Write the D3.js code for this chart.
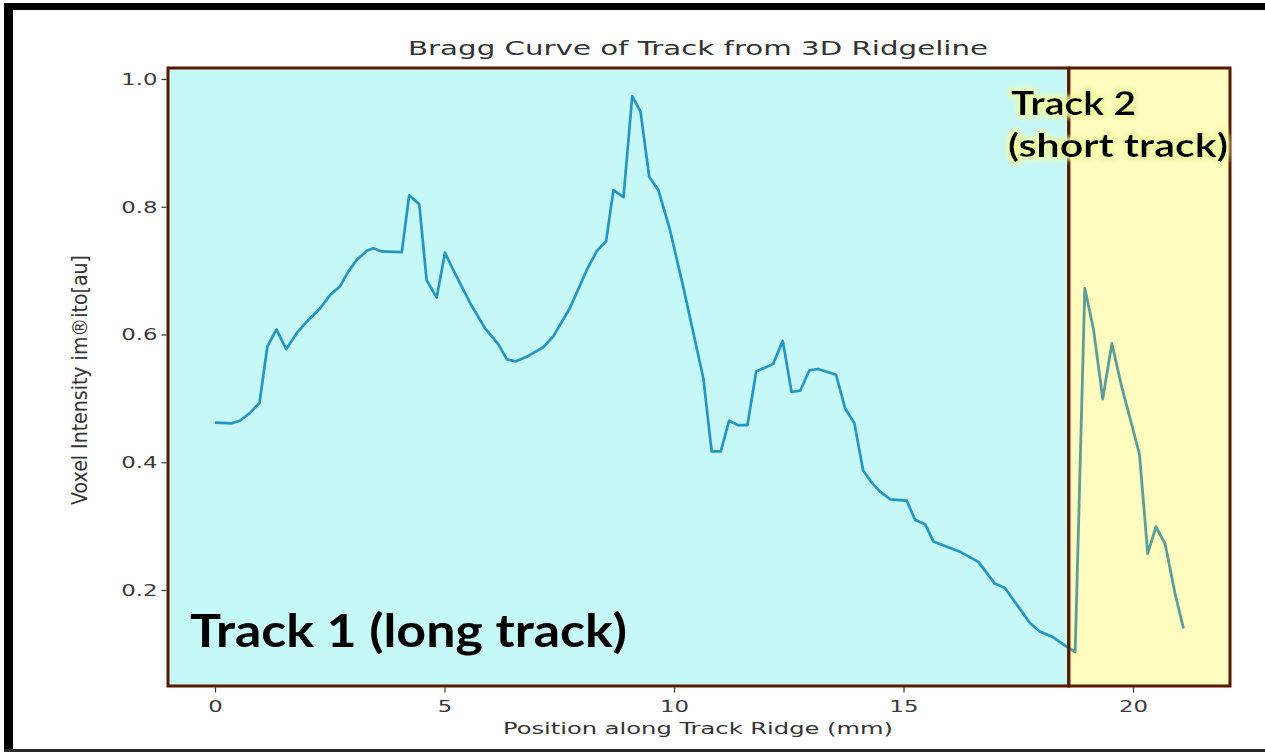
<!DOCTYPE html>
<html>
<head>
<meta charset="utf-8">
<script src="https://cdn.jsdelivr.net/npm/d3@7"></script>
<style>
  html, body { margin: 0; padding: 0; background: #ffffff; }
  svg { display: block; }
</style>
</head>
<body>
<svg id="chart" width="1265" height="753"></svg>
<script>
// Position along the ridge (mm) and normalised voxel intensity
const positions = [
  0.00, 0.36, 0.54, 0.76, 0.97, 1.14, 1.34, 1.55, 1.78, 2.00,
  2.29, 2.51, 2.72, 2.90, 3.09, 3.31, 3.45, 3.63, 4.07, 4.23,
  4.45, 4.61, 4.83, 5.01, 5.19, 5.56, 5.88, 6.17, 6.36, 6.56,
  6.79, 7.15, 7.37, 7.73, 8.10, 8.32, 8.52, 8.68, 8.90, 9.09,
  9.27, 9.46, 9.66, 9.91, 10.20, 10.64, 10.82, 11.02, 11.20, 11.40,
  11.60, 11.79, 12.16, 12.37, 12.56, 12.75, 12.95, 13.14, 13.53, 13.73,
  13.93, 14.12, 14.31, 14.49, 14.71, 15.07, 15.25, 15.47, 15.65, 16.23,
  16.63, 16.99, 17.21, 17.50, 17.76, 17.97, 18.26, 18.56, 18.74,
  18.95, 19.14, 19.34, 19.54, 19.75, 20.14, 20.32, 20.50, 20.70, 20.92, 21.10
];
const intensity = [
  0.462, 0.461, 0.465, 0.477, 0.493, 0.581, 0.608, 0.577, 0.602, 0.620,
  0.641, 0.662, 0.675, 0.698, 0.717, 0.731, 0.735, 0.730, 0.729, 0.818,
  0.804, 0.685, 0.658, 0.728, 0.701, 0.649, 0.610, 0.585, 0.561, 0.558,
  0.565, 0.580, 0.597, 0.641, 0.701, 0.731, 0.746, 0.826, 0.815, 0.973,
  0.949, 0.847, 0.826, 0.764, 0.675, 0.531, 0.417, 0.417, 0.465, 0.458,
  0.458, 0.542, 0.554, 0.590, 0.510, 0.512, 0.544, 0.546, 0.537, 0.484,
  0.461, 0.387, 0.368, 0.354, 0.342, 0.340, 0.310, 0.303, 0.276, 0.260,
  0.244, 0.210, 0.203, 0.174, 0.148, 0.135, 0.126, 0.111, 0.103,
  0.672, 0.608, 0.499, 0.586, 0.519, 0.413, 0.257, 0.299, 0.272, 0.193, 0.140
];

const xTicks = [0, 5, 10, 15, 20];
const yTicks = [0.2, 0.4, 0.6, 0.8, 1.0];

// Boundary between the two tracks (mm)
const trackSplit = 18.6;
const trackNames = ["Track 1 (long track)", "Track 2", "(short track)"];

const titleText = "Bragg Curve of Track from 3D Ridgeline";
const xLabelText = "Position along Track Ridge (mm)";
const yLabelText = "Voxel Intensity im\u00AEito[au]";

const svg = d3.select("#chart");
const W = 1265, H = 753;
const plot = { left: 168, right: 1230, top: 68, bottom: 686 };

const x = d3.scaleLinear().domain([-1.024, 22.113]).range([plot.left, plot.right]);
const y = d3.scaleLinear().domain([0.0497, 1.0172]).range([plot.bottom, plot.top]);

const data = positions.map((p, i) => ({ p, v: intensity[i] }));

// Page background and outer frame
svg.append("rect").attr("width", W).attr("height", H).attr("fill", "#ffffff");
svg.append("rect").attr("x", 4).attr("y", 3).attr("width", W - 4).attr("height", 7).attr("fill", "#000");
svg.append("rect").attr("x", 4).attr("y", 3).attr("width", 9).attr("height", 746).attr("fill", "#000");
svg.append("rect").attr("x", 4).attr("y", 749).attr("width", W - 4).attr("height", 3).attr("fill", "#2a2a2a");

const defs = svg.append("defs");
const splitX = x(trackSplit);

defs.append("clipPath").attr("id", "clip-t1")
  .append("rect").attr("x", plot.left).attr("y", plot.top)
  .attr("width", splitX - plot.left).attr("height", plot.bottom - plot.top);
defs.append("clipPath").attr("id", "clip-t2")
  .append("rect").attr("x", splitX).attr("y", plot.top)
  .attr("width", plot.right - splitX).attr("height", plot.bottom - plot.top);

// Yellow halo for the short-track label
const glow = defs.append("filter").attr("id", "halo")
  .attr("x", "-20%").attr("y", "-40%").attr("width", "140%").attr("height", "180%");
glow.append("feMorphology").attr("in", "SourceAlpha").attr("operator", "dilate").attr("radius", 2.5).attr("result", "fat");
glow.append("feGaussianBlur").attr("in", "fat").attr("stdDeviation", 2.5).attr("result", "soft");
glow.append("feFlood").attr("flood-color", "#eefca0").attr("flood-opacity", 0.95).attr("result", "col");
glow.append("feComposite").attr("in", "col").attr("in2", "soft").attr("operator", "in").attr("result", "haloCol");
const merge = glow.append("feMerge");
merge.append("feMergeNode").attr("in", "haloCol");
merge.append("feMergeNode").attr("in", "SourceGraphic");

// Track regions
svg.append("rect").attr("x", plot.left).attr("y", plot.top)
  .attr("width", splitX - plot.left).attr("height", plot.bottom - plot.top)
  .attr("fill", "#c5f8f7");
svg.append("rect").attr("x", splitX).attr("y", plot.top)
  .attr("width", plot.right - splitX).attr("height", plot.bottom - plot.top)
  .attr("fill", "#fffcc0");

// Bragg curve
const line = d3.line().x(d => x(d.p)).y(d => y(d.v));
svg.append("path").datum(data).attr("d", line)
  .attr("clip-path", "url(#clip-t1)")
  .attr("fill", "none").attr("stroke", "#2596c4").attr("stroke-width", 2.7)
  .attr("stroke-linejoin", "round");
svg.append("path").datum(data).attr("d", line)
  .attr("clip-path", "url(#clip-t2)")
  .attr("fill", "none").attr("stroke", "#5c9e9a").attr("stroke-width", 2.8)
  .attr("stroke-linejoin", "round");

// Region borders
svg.append("rect").attr("x", plot.left).attr("y", plot.top)
  .attr("width", splitX - plot.left).attr("height", plot.bottom - plot.top)
  .attr("fill", "none").attr("stroke", "#5a1800").attr("stroke-width", 3);
svg.append("rect").attr("x", splitX).attr("y", plot.top)
  .attr("width", plot.right - splitX).attr("height", plot.bottom - plot.top)
  .attr("fill", "none").attr("stroke", "#5a1800").attr("stroke-width", 3);

// Horizontal stretch applied to the axis text
const stretch = 1.38;
function widen(sel, factor) {
  sel.each(function () {
    const n = this.getComputedTextLength();
    d3.select(this).attr("textLength", n * factor).attr("lengthAdjust", "spacingAndGlyphs");
  });
}

// Axes
const xAxis = svg.append("g").attr("transform", `translate(0,${plot.bottom + 1.5})`)
  .call(d3.axisBottom(x).tickValues(xTicks).tickSize(5).tickPadding(4).tickFormat(d3.format("d")));
const yAxis = svg.append("g").attr("transform", `translate(${plot.left - 1.5},0)`)
  .call(d3.axisLeft(y).tickValues(yTicks).tickSize(5).tickPadding(4).tickFormat(d3.format(".1f")));
[xAxis, yAxis].forEach(g => {
  g.select(".domain").remove();
  g.selectAll(".tick line").attr("stroke", "#333").attr("stroke-width", 1.2);
  g.selectAll(".tick text").attr("fill", "#3a3a3a")
    .attr("font-family", "DejaVu Sans").attr("font-size", 16.5);
});
xAxis.selectAll(".tick text").attr("dy", "0.95em");
widen(xAxis.selectAll(".tick text"), stretch);
widen(yAxis.selectAll(".tick text"), stretch);

// Title
const title = svg.append("text").attr("x", 698).attr("y", 55)
  .attr("text-anchor", "middle").attr("fill", "#333")
  .attr("font-family", "DejaVu Sans").attr("font-size", 19.5)
  .text(titleText);
title.attr("textLength", 580).attr("lengthAdjust", "spacingAndGlyphs");

// Axis labels
svg.append("text").attr("x", 698).attr("y", 734)
  .attr("text-anchor", "middle").attr("fill", "#333")
  .attr("font-family", "DejaVu Sans").attr("font-size", 16.5)
  .attr("textLength", 390).attr("lengthAdjust", "spacingAndGlyphs")
  .text(xLabelText);
svg.append("text")
  .attr("transform", "translate(87,380) rotate(-90)")
  .attr("text-anchor", "middle").attr("fill", "#333")
  .attr("font-family", "DejaVu Sans").attr("font-size", 21)
  .attr("textLength", 250).attr("lengthAdjust", "spacingAndGlyphs")
  .text(yLabelText);

// Track annotations
svg.append("text").attr("x", 190).attr("y", 647)
  .attr("fill", "#000").attr("font-family", "Lato").attr("font-weight", 700)
  .attr("font-size", 46).attr("textLength", 437).attr("lengthAdjust", "spacingAndGlyphs")
  .text(trackNames[0]);
const t2 = svg.append("g").attr("filter", "url(#halo)");
t2.append("text").attr("x", 1011).attr("y", 115)
  .attr("fill", "#000").attr("font-family", "Lato").attr("font-weight", 700)
  .attr("font-size", 32).attr("textLength", 125).attr("lengthAdjust", "spacingAndGlyphs")
  .text(trackNames[1]);
t2.append("text").attr("x", 1008).attr("y", 157)
  .attr("fill", "#000").attr("font-family", "Lato").attr("font-weight", 700)
  .attr("font-size", 32).attr("textLength", 220).attr("lengthAdjust", "spacingAndGlyphs")
  .text(trackNames[2]);
</script>
</body>
</html>
